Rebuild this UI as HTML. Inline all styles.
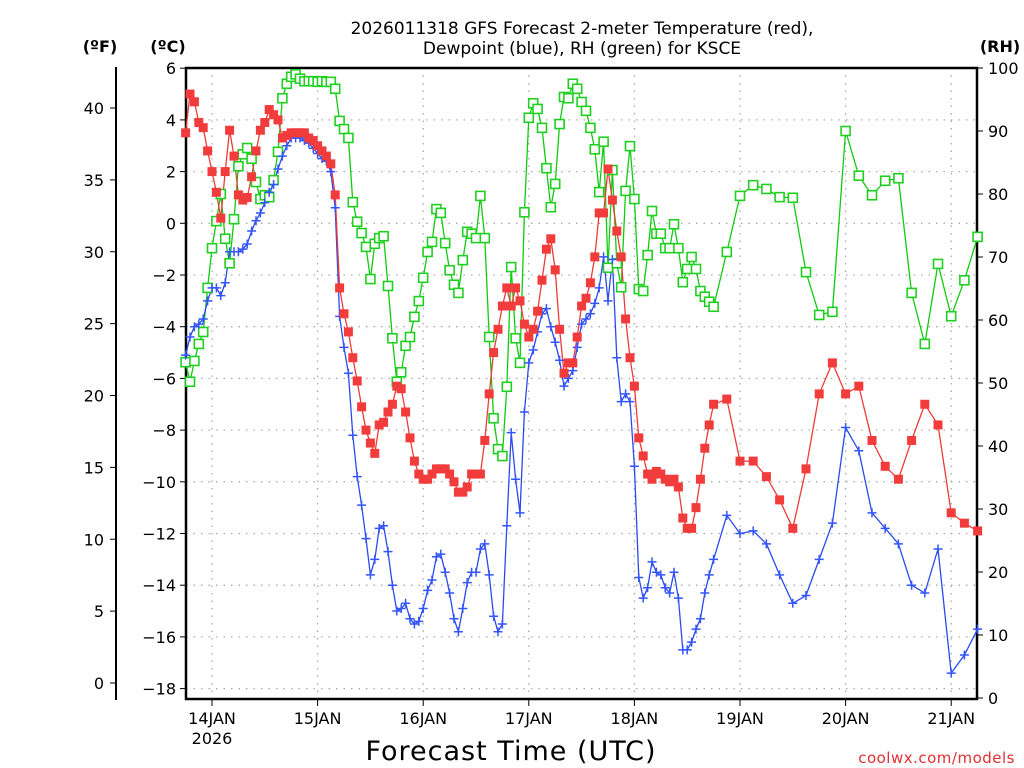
<!DOCTYPE html>
<html><head><meta charset="utf-8">
<style>
html,body{margin:0;padding:0;background:#fff;}
svg{display:block;font-family:"DejaVu Sans","Liberation Sans",sans-serif;}
</style></head>
<body>
<svg id="chart" width="1024" height="768" viewBox="0 0 1024 768" xmlns="http://www.w3.org/2000/svg">
<text x="582" y="34" font-size="17" text-anchor="middle">2026011318 GFS Forecast 2-meter Temperature (red),</text>
<text x="582" y="54" font-size="17" text-anchor="middle">Dewpoint (blue), RH (green) for KSCE</text>
<text x="100" y="52" font-size="16" font-weight="bold" text-anchor="middle">(ºF)</text>
<text x="168" y="52" font-size="16" font-weight="bold" text-anchor="middle">(ºC)</text>
<text x="1000" y="52" font-size="16" font-weight="bold" text-anchor="middle">(RH)</text>
<text x="511" y="760" font-size="27" text-anchor="middle" letter-spacing="1">Forecast Time (UTC)</text>
<text x="1015" y="763" font-size="15" fill="#e03030" text-anchor="end" letter-spacing="0.5">coolwx.com/models</text>
<g id="grid"></g><g id="axes"></g><g id="series"></g>
</svg>
<script>
const hours=[-6,-5,-4,-3,-2,-1,0,1,2,3,4,5,6,7,8,9,10,11,12,13,14,15,16,17,18,19,20,21,22,23,24,25,26,27,28,29,30,31,32,33,34,35,36,37,38,39,40,41,42,43,44,45,46,47,48,49,50,51,52,53,54,55,56,57,58,59,60,61,62,63,64,65,66,67,68,69,70,71,72,73,74,75,76,77,78,79,80,81,82,83,84,85,86,87,88,89,90,91,92,93,94,95,96,97,98,99,100,101,102,103,104,105,106,107,108,109,110,111,112,113,114,117,120,123,126,129,132,135,138,141,144,147,150,153,156,159,162,165,168,171,174];
const tempC=[3.5,5.0,4.7,3.9,3.7,2.8,2.0,1.2,0.2,2.0,3.6,2.6,1.1,0.9,1.0,1.8,2.8,3.6,3.9,4.4,4.2,4.0,3.3,3.4,3.5,3.5,3.5,3.5,3.3,3.2,3.0,2.8,2.6,2.3,1.1,-2.5,-3.5,-4.2,-5.2,-6.1,-7.1,-8.0,-8.5,-8.9,-7.8,-7.7,-7.3,-7.0,-6.3,-6.4,-7.3,-8.3,-9.2,-9.7,-9.9,-9.9,-9.7,-9.5,-9.5,-9.5,-9.7,-10.0,-10.4,-10.4,-10.2,-9.7,-9.7,-9.7,-8.4,-6.6,-5.0,-4.1,-3.2,-2.5,-3.2,-2.5,-3.0,-3.9,-4.4,-4.1,-3.4,-2.2,-1.0,-0.6,-1.8,-4.1,-5.8,-5.4,-5.4,-4.4,-3.2,-2.9,-2.3,-1.3,0.4,0.4,2.1,0.9,-0.3,-1.3,-3.7,-5.2,-6.3,-8.3,-9.0,-9.7,-9.9,-9.6,-9.7,-9.9,-10.0,-9.9,-10.2,-11.4,-11.8,-11.8,-11.0,-9.9,-8.7,-7.8,-7.0,-6.8,-9.2,-9.2,-9.8,-10.7,-11.8,-9.5,-6.6,-5.4,-6.6,-6.3,-8.4,-9.4,-9.9,-8.4,-7.0,-7.8,-11.2,-11.6,-11.9];
const dewC=[-5.1,-4.4,-4.0,-3.9,-3.7,-3.0,-2.5,-2.5,-2.8,-2.3,-1.1,-1.1,-1.1,-1.0,-0.8,-0.3,0.1,0.4,0.8,1.2,1.5,2.1,2.6,3.0,3.3,3.3,3.3,3.2,3.1,2.9,2.7,2.5,2.4,2.0,0.6,-3.6,-4.8,-5.8,-8.2,-9.8,-10.9,-12.2,-13.6,-13.0,-11.8,-11.7,-12.7,-14.0,-15.0,-14.9,-14.7,-15.3,-15.5,-15.4,-14.9,-14.2,-13.8,-12.9,-12.8,-13.5,-14.3,-15.3,-15.8,-14.9,-13.9,-13.5,-13.5,-12.6,-12.4,-13.6,-15.2,-15.8,-15.5,-11.7,-8.1,-9.9,-11.2,-7.3,-5.4,-4.9,-4.2,-3.5,-3.3,-4.0,-4.6,-5.3,-6.3,-6.0,-5.7,-4.8,-3.9,-3.7,-3.5,-3.1,-2.5,-1.3,-3.0,-1.4,-5.2,-6.9,-6.6,-6.9,-9.4,-13.7,-14.5,-14.1,-13.1,-13.5,-13.6,-14.1,-14.3,-13.5,-14.5,-16.5,-16.5,-16.2,-15.7,-15.3,-14.3,-13.6,-13.0,-11.3,-12.0,-11.9,-12.4,-13.6,-14.7,-14.4,-13.0,-11.6,-7.9,-8.8,-11.2,-11.8,-12.4,-14.0,-14.3,-12.6,-17.4,-16.7,-15.7];
const rhPct=[53.3,50.2,53.5,56.2,58.1,65.1,71.4,75.7,80.0,72.9,69.0,76.0,84.4,86.3,87.3,85.6,81.9,79.2,79.8,79.5,82.2,86.7,95.2,97.5,98.6,99.0,98.3,97.9,97.9,97.9,97.8,97.9,97.8,97.8,96.7,91.6,90.3,88.9,78.7,75.6,73.8,71.6,66.5,72.1,73.0,73.3,65.4,57.1,50.2,51.7,55.9,57.3,60.5,63.0,66.7,70.8,72.4,77.6,77.0,72.2,67.9,65.6,64.3,69.5,74.0,73.7,73.0,79.7,73.0,57.3,44.4,39.5,38.4,49.4,68.4,57.1,53.2,77.1,92.1,94.4,93.5,90.5,84.1,77.9,81.6,91.1,95.4,95.2,97.5,96.7,94.6,93.2,90.5,87.1,80.3,88.3,68.3,83.8,69.0,65.2,80.5,87.6,79.2,64.9,64.6,70.3,77.3,73.7,73.7,71.4,71.4,75.2,71.4,66.0,68.1,70.0,68.1,64.6,63.7,62.9,62.1,70.8,79.7,81.4,80.8,79.5,79.4,67.6,60.8,61.3,90.0,82.9,79.8,82.1,82.5,64.3,56.2,68.9,60.6,66.3,73.2];
const dayLabels=["14JAN","15JAN","16JAN","17JAN","18JAN","19JAN","20JAN","21JAN"];
const celsiusTicks=[6,4,2,0,-2,-4,-6,-8,-10,-12,-14,-16,-18];
const fahrenheitTicks=[40,35,30,25,20,15,10,5,0];
const rhTicks=[100,90,80,70,60,50,40,30,20,10,0];

const L=186,R=977,T=68,B=699;
const xH=h=>212+h*4.4;
const yC=c=>223.3-25.85*c;
const yF=f=>683-14.375*f;
const yRH=r=>698-6.3*r;
const NS="http://www.w3.org/2000/svg";
function mk(tag,attrs,parent){const e=document.createElementNS(NS,tag);for(const k in attrs)e.setAttribute(k,attrs[k]);parent.appendChild(e);return e;}
const grid=document.getElementById('grid'),axes=document.getElementById('axes'),ser=document.getElementById('series');

celsiusTicks.forEach(c=>{
  const y=yC(c);
  const g=mk('line',{x1:L,x2:R,y1:y,y2:y,stroke:'#aaa','stroke-width':1.3,'stroke-dasharray':'1.5,6'},grid);
  
  
  const t=mk('line',{x1:L-6,x2:L,y1:y,y2:y,stroke:'#000','stroke-width':1},axes);
  
  
  const lb=mk('text',{x:L-10,y:y+6,'font-size':16,'text-anchor':'end'},axes);
  lb.textContent=(c<0?'\u2212'+(-c):String(c));
  
  
});
dayLabels.forEach((d,i)=>{
  const x=xH(24*i);
  const g=mk('line',{x1:x,x2:x,y1:T,y2:B,stroke:'#aaa','stroke-width':1.3,'stroke-dasharray':'1.5,6'},grid);
  
  
  const t=mk('line',{x1:x,x2:x,y1:B,y2:B+7,stroke:'#000','stroke-width':1},axes);
  
  
  const lb=mk('text',{x:x,y:B+25,'font-size':16,'text-anchor':'middle'},axes);
  lb.textContent=d;
  
  
});
const yr=mk('text',{x:xH(0),y:B+45,'font-size':16,'text-anchor':'middle'},axes);
yr.textContent='2026';



const fl=mk('line',{x1:116,x2:116,y1:67,y2:700,stroke:'#000','stroke-width':2},axes);


fahrenheitTicks.forEach(f=>{
  const y=yF(f);
  const t=mk('line',{x1:110,x2:116,y1:y,y2:y,stroke:'#000','stroke-width':1},axes);
  
  
  const lb=mk('text',{x:104,y:y+6,'font-size':16,'text-anchor':'end'},axes);
  lb.textContent=String(f);
  
  
});
rhTicks.forEach(r=>{
  const y=yRH(r);
  const t=mk('line',{x1:R,x2:R+6,y1:y,y2:y,stroke:'#000','stroke-width':1},axes);
  
  
  const lb=mk('text',{x:R+11,y:y+6,'font-size':16,'text-anchor':'start'},axes);
  lb.textContent=String(r);
  
  
});
const fr=mk('rect',{x:L,y:T,width:R-L,height:B-T,fill:'none',stroke:'#000','stroke-width':2.5},axes);



function line(vals,yf,color,name){
  const pts=vals.map((v,i)=>xH(hours[i]).toFixed(1)+','+yf(v).toFixed(1)).join(' ');
  const p=mk('polyline',{points:pts,fill:'none',stroke:color,'stroke-width':1.3},ser);
  
  
}
line(rhPct,yRH,'#10cc10','rh-line');
line(dewC,yC,'#2a4af0','dewpoint-line');
line(tempC,yC,'#f03a3a','temperature-line');
rhPct.forEach((v,i)=>{
  const m=mk('rect',{x:xH(hours[i])-4.5,y:yRH(v)-4.5,width:9,height:9,fill:'#fff',stroke:'#20d020','stroke-width':1.6},ser);
  
  
});
dewC.forEach((v,i)=>{
  const x=xH(hours[i]),y=yC(v);
  const m=mk('path',{d:`M${x-4.5},${y}H${x+4.5}M${x},${y-4.5}V${y+4.5}`,stroke:'#3355ff','stroke-width':1.5,fill:'none'},ser);
  
  
});
tempC.forEach((v,i)=>{
  const m=mk('rect',{x:xH(hours[i])-4.5,y:yC(v)-4.5,width:9,height:9,fill:'#f23c3c'},ser);
  
  
});
</script>
</body></html>
